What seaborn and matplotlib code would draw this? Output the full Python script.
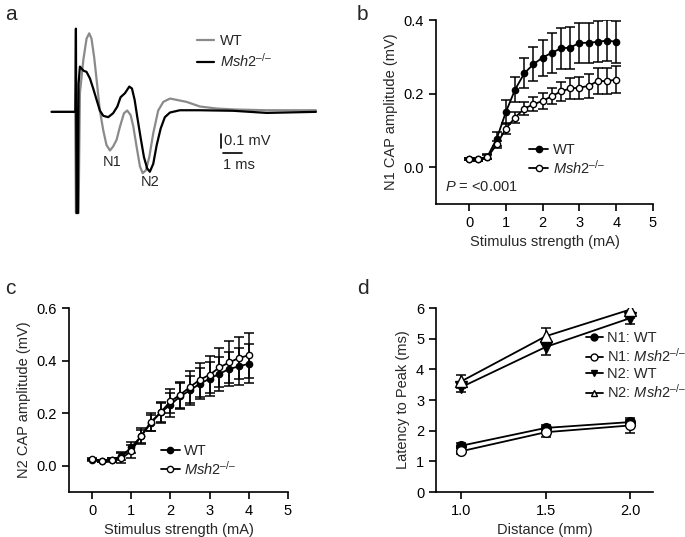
import seaborn as sns
import matplotlib.pyplot as plt
from matplotlib.lines import Line2D

# panel a: CAP traces (ms, mV)
wt_t = [-1.28, -0.035, 0.0, 0.14, 0.21, 0.39, 0.56, 0.70, 0.82, 0.96, 1.09, 1.26, 1.44, 1.61,
        1.79, 1.96, 2.14, 2.32, 2.53, 2.70, 2.88, 3.02, 3.19, 3.37, 3.51, 3.68, 3.86, 4.07,
        4.33, 4.60, 4.95, 5.30, 5.82, 6.53, 7.40, 8.28, 10.04, 12.63]
wt_v = [0.0, 0.0, -0.76, -0.76, 0.14, 0.39, 0.55, 0.59, 0.55, 0.41, 0.24, 0.01, -0.14, -0.25,
        -0.29, -0.26, -0.21, -0.11, -0.01, 0.01, -0.025, -0.11, -0.26, -0.41, -0.46, -0.44, -0.34, -0.16,
        0.01, 0.075, 0.10, 0.09, 0.075, 0.04, 0.025, 0.018, 0.012, 0.012]
ko_t = [-1.28, -0.035, 0.0, 0.035, 0.105, 0.14, 0.21, 0.39, 0.56, 0.74, 0.91, 1.09, 1.26, 1.44,
        1.70, 1.96, 2.18, 2.35, 2.58, 2.81, 2.95, 3.09, 3.23, 3.40, 3.58, 3.75, 3.89, 4.07,
        4.25, 4.46, 4.68, 4.95, 5.47, 6.53, 8.28, 10.04, 12.63]
ko_v = [0.0, 0.0, 0.625, -0.76, -0.76, 0.21, 0.34, 0.31, 0.30, 0.25, 0.175, 0.09, 0.01, -0.03,
        -0.04, -0.01, 0.04, 0.11, 0.14, 0.19, 0.175, 0.09, -0.04, -0.19, -0.34, -0.425, -0.45, -0.39,
        -0.25, -0.125, -0.04, -0.005, 0.012, 0.012, 0.008, -0.008, 0.0]

# panels b, c: stimulus series
stim = [0, 0.25, 0.5, 0.75, 1.0, 1.25, 1.5, 1.75, 2.0, 2.25, 2.5, 2.75, 3.0, 3.25, 3.5, 3.75, 4.0]
n1_wt = [0.023, 0.021, 0.029, 0.077, 0.150, 0.211, 0.255, 0.280, 0.298, 0.311, 0.323, 0.325,
         0.338, 0.338, 0.341, 0.344, 0.341]
n1_wt_err = [0.003, 0.003, 0.006, 0.020, 0.032, 0.035, 0.041, 0.047, 0.049, 0.055, 0.055, 0.057,
             0.055, 0.055, 0.055, 0.056, 0.057]
n1_ko = [0.023, 0.021, 0.027, 0.062, 0.105, 0.135, 0.159, 0.171, 0.180, 0.193, 0.206, 0.214,
         0.216, 0.221, 0.234, 0.234, 0.238]
n1_ko_err = [0.003, 0.003, 0.006, 0.010, 0.014, 0.015, 0.018, 0.019, 0.021, 0.022, 0.025, 0.028,
             0.030, 0.032, 0.035, 0.035, 0.036]
n2_wt = [0.023, 0.019, 0.023, 0.036, 0.070, 0.112, 0.162, 0.203, 0.232, 0.264, 0.287, 0.312,
         0.331, 0.350, 0.368, 0.378, 0.388]
n2_wt_err = [0.004, 0.003, 0.006, 0.015, 0.020, 0.025, 0.030, 0.035, 0.045, 0.050, 0.055, 0.060,
             0.065, 0.065, 0.065, 0.070, 0.075]
n2_ko = [0.025, 0.019, 0.022, 0.029, 0.055, 0.114, 0.166, 0.203, 0.245, 0.270, 0.300, 0.327,
         0.346, 0.374, 0.393, 0.410, 0.420]
n2_ko_err = [0.004, 0.003, 0.006, 0.020, 0.025, 0.030, 0.035, 0.040, 0.045, 0.050, 0.060, 0.065,
             0.070, 0.075, 0.080, 0.080, 0.085]

# panel d: latency vs distance
dist = [1.0, 1.5, 2.0]
lat_n1_wt = [1.51, 2.09, 2.28]
lat_n1_wt_err = [0.08, 0.08, 0.08]
lat_n1_ko = [1.33, 1.95, 2.17]
lat_n1_ko_err = [0.10, 0.17, 0.23]
lat_n2_wt = [3.42, 4.73, 5.67]
lat_n2_wt_err = [0.15, 0.25, 0.20]
lat_n2_ko = [3.61, 5.08, 5.95]
lat_n2_ko_err = [0.22, 0.27, 0.27]

KO = "$\\mathit{Msh2}^{\\mathit{\u2013/\u2013}}$"

sns.set_style("ticks")
plt.rcParams['font.family'] = ['Liberation Sans', 'DejaVu Sans']
plt.rcParams['mathtext.fontset'] = 'custom'
plt.rcParams['mathtext.rm'] = 'Liberation Sans'
plt.rcParams['mathtext.it'] = 'Liberation Sans:italic'
plt.rcParams['axes.linewidth'] = 1.2
plt.rcParams['xtick.major.width'] = 1.2
plt.rcParams['ytick.major.width'] = 1.2
plt.rcParams['xtick.major.size'] = 5
plt.rcParams['ytick.major.size'] = 5
plt.rcParams['xtick.labelsize'] = 10.5
plt.rcParams['ytick.labelsize'] = 10.5
plt.rcParams['xtick.color'] = 'black'
plt.rcParams['ytick.color'] = 'black'
plt.rcParams['axes.edgecolor'] = 'black'

W, H = 685, 537
fig = plt.figure(figsize=(W / 100, H / 100), dpi=100)


def axes_px(x0, y0, x1, y1):
    return fig.add_axes([x0 / W, 1 - y1 / H, (x1 - x0) / W, (y1 - y0) / H])


def series(ax, x, y, err, filled, marker='o', ms=4.5):
    ax.errorbar(x, y, yerr=err, fmt='none', ecolor='black', elinewidth=1.1, capsize=3.5,
                capthick=1.1, zorder=2)
    sns.lineplot(x=x, y=y, ax=ax, color='black', lw=1.3, marker=marker, markersize=ms,
                 markerfacecolor='black' if filled else 'white', markeredgecolor='black',
                 markeredgewidth=1.0, estimator=None, sort=False, zorder=3)


def handle(filled, marker='o', ms=4.5):
    return Line2D([], [], color='black', lw=1.3, marker=marker, markersize=ms,
                  markerfacecolor='black' if filled else 'white', markeredgecolor='black',
                  markeredgewidth=1.0)


# ---- a
axa = axes_px(40, 20, 330, 225)
sns.lineplot(x=wt_t, y=wt_v, ax=axa, color='#8a8a8a', lw=1.6, estimator=None, sort=False)
sns.lineplot(x=ko_t, y=ko_v, ax=axa, color='black', lw=1.6, estimator=None, sort=False)
axa.set_xlim(-1.89, 13.37)
axa.set_ylim(-0.85, 0.69)
axa.axis('off')
axa.plot([7.63, 7.63], [-0.17, -0.27], color='black', lw=1.2)
axa.plot([7.74, 8.74], [-0.31, -0.31], color='black', lw=1.2)
axa.text(7.78, -0.22, "0.1 mV", fontsize=10.5, va='center', ha='left')
axa.text(7.74, -0.40, "1 ms", fontsize=10.5, va='center', ha='left')
axa.text(1.89, -0.38, "N1", fontsize=10.5, va='center', ha='center')
axa.text(3.89, -0.53, "N2", fontsize=10.5, va='center', ha='center')
axa.legend([Line2D([], [], color='#8a8a8a', lw=1.6), Line2D([], [], color='black', lw=1.6)],
           ["WT", KO], loc='center left', bbox_to_anchor=(0.54, 0.845), frameon=False,
           fontsize=10.5, handlelength=1.2, handletextpad=0.4, labelspacing=0.3,
           borderaxespad=0, borderpad=0)

# ---- b
axb = axes_px(436, 20, 653, 204)
series(axb, stim, n1_wt, n1_wt_err, True)
series(axb, stim, n1_ko, n1_ko_err, False)
axb.set_xlim(-0.9, 5)
axb.set_ylim(-0.1, 0.4)
axb.set_xticks([0, 1, 2, 3, 4, 5])
axb.set_yticks([0.0, 0.2, 0.4])
axb.set_yticklabels(["0.0", "0.2", "0.4"])
axb.set_xlabel("Stimulus strength (mA)", fontsize=10.5)
axb.set_ylabel("N1 CAP amplitude (mV)", fontsize=10.5)
axb.text(0.04, 0.09, r"$\mathit{P}$ = <0.001", transform=axb.transAxes, fontsize=10.5, va='center')
axb.legend([handle(True), handle(False)], ["WT", KO], loc='center left',
           bbox_to_anchor=(0.43, 0.24), frameon=False, fontsize=10.5, handlelength=1.3,
           handletextpad=0.3, labelspacing=0.1, borderaxespad=0, borderpad=0)
sns.despine(ax=axb)

# ---- c
axc = axes_px(69, 308, 288, 492)
series(axc, stim, n2_wt, n2_wt_err, True)
series(axc, stim, n2_ko, n2_ko_err, False)
axc.set_xlim(-0.59, 5)
axc.set_ylim(-0.1, 0.6)
axc.set_xticks([0, 1, 2, 3, 4, 5])
axc.set_yticks([0.0, 0.2, 0.4, 0.6])
axc.set_yticklabels(["0.0", "0.2", "0.4", "0.6"])
axc.set_xlabel("Stimulus strength (mA)", fontsize=10.5)
axc.set_ylabel("N2 CAP amplitude (mV)", fontsize=10.5)
axc.legend([handle(True), handle(False)], ["WT", KO], loc='center left',
           bbox_to_anchor=(0.42, 0.17), frameon=False, fontsize=10.5, handlelength=1.3,
           handletextpad=0.3, labelspacing=0.1, borderaxespad=0, borderpad=0)
sns.despine(ax=axc)

# ---- d
axd = axes_px(436, 308, 653, 492)
series(axd, dist, lat_n1_wt, lat_n1_wt_err, True, 'o', 7)
series(axd, dist, lat_n1_ko, lat_n1_ko_err, False, 'o', 7)
series(axd, dist, lat_n2_wt, lat_n2_wt_err, True, 'v', 8)
series(axd, dist, lat_n2_ko, lat_n2_ko_err, False, '^', 8)
axd.set_xlim(0.85, 2.135)
axd.set_ylim(0, 6)
axd.set_xticks([1.0, 1.5, 2.0])
axd.set_xticklabels(["1.0", "1.5", "2.0"])
axd.set_yticks([0, 1, 2, 3, 4, 5, 6])
axd.set_xlabel("Distance (mm)", fontsize=10.5)
axd.set_ylabel("Latency to Peak (ms)", fontsize=10.5)
axd.legend([handle(True, 'o', 5), handle(False, 'o', 5), handle(True, 'v', 5), handle(False, '^', 5)],
           ["N1: WT", "N1: " + KO, "N2: WT", "N2: " + KO], loc='center left',
           bbox_to_anchor=(0.69, 0.685), frameon=False, fontsize=10.5, handlelength=1.2,
           handletextpad=0.25, labelspacing=0.15, borderaxespad=0, borderpad=0)
sns.despine(ax=axd)

for lab, (px, py) in zip("abcd", [(5, 14), (357, 14), (5, 288), (357, 288)]):
    fig.text(px / W, 1 - py / H, lab, fontsize=15, va='center', ha='left')

fig.savefig("out.png", dpi=100)
